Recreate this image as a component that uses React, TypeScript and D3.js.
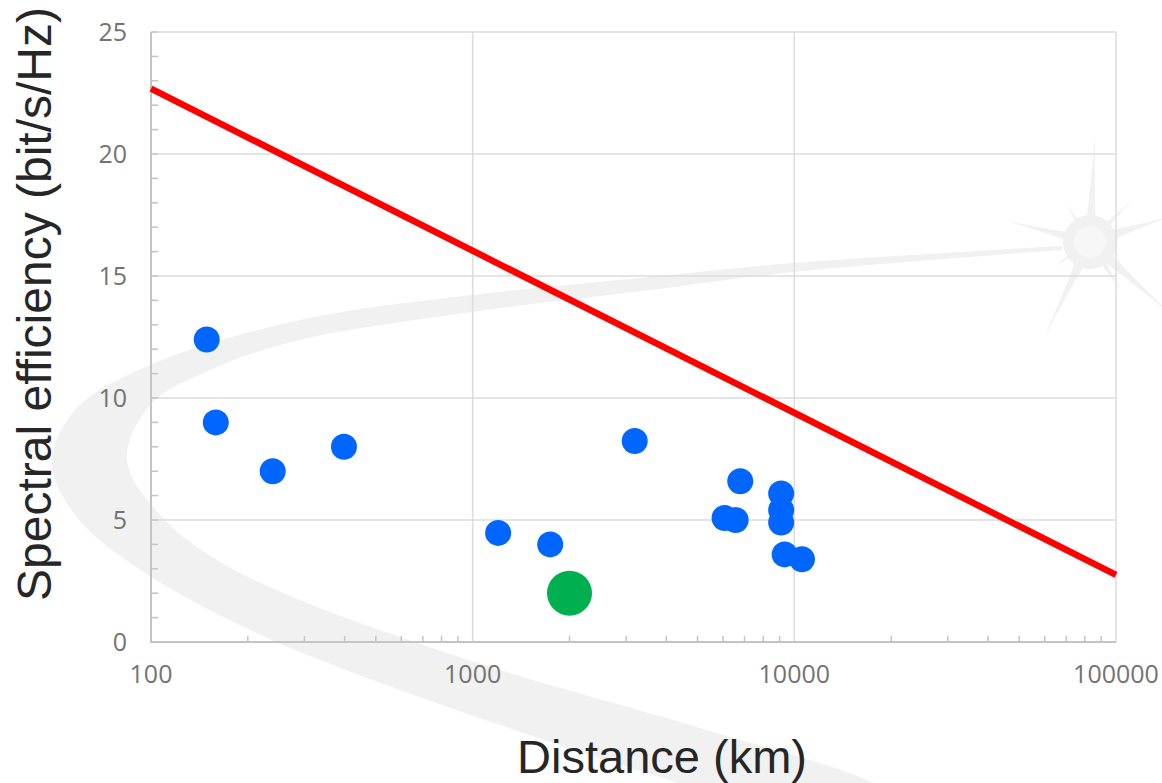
import React from "react";
import * as d3 from "d3";

// ---- data ----
const distanceKm = [149, 159, 239, 398, 1200, 1742, 3190, 6790, 6070, 6570, 9100, 9100, 9100, 9330, 10560];
const spectralEff = [12.4, 9.0, 7.0, 8.0, 4.47, 4.0, 8.24, 6.59, 5.08, 5.0, 6.09, 5.41, 4.9, 3.59, 3.39];
const highlightDistance = [2000];
const highlightEff = [2.0];
const limitDistance = [100, 100000];
const limitEff = [22.68, 2.75];
const xTicks = [100, 1000, 10000, 100000];
const yTicks = [0, 5, 10, 15, 20, 25];

const W = 1162;
const H = 783;
const L = 151, R = 1116, T = 32, B = 642;

export default function App() {
  const x = d3.scaleLog().domain([100, 100000]).range([L, R]);
  const y = d3.scaleLinear().domain([0, 25]).range([B, T]);

  const minorX: number[] = [];
  for (let dec = 100; dec < 100000; dec *= 10) {
    for (let k = 2; k <= 9; k++) minorX.push(dec * k);
  }
  const minorY = d3.range(0, 26, 1).filter((v) => v % 5 !== 0);

  const line = d3
    .line<number>()
    .x((_, i) => x(limitDistance[i]))
    .y((d) => y(d));

  // decorative background swoosh
  const outer: [number, number][] = [
    [1062, 246], [793, 263], [650, 277], [472, 295], [300, 320], [150, 365],
    [75, 410], [52, 463], [75, 515], [133, 565], [250, 630], [400, 690], [560, 745], [700, 790], [760, 810],
  ];
  const inner: [number, number][] = [
    [920, 810], [867, 780], [700, 728], [500, 670], [400, 637], [300, 600], [217, 560],
    [160, 515], [127, 460], [150, 405], [210, 370], [300, 340], [472, 312], [650, 290], [793, 272], [1062, 250],
  ];
  const curve = d3.line().curve(d3.curveCatmullRom.alpha(0.5));
  const swoosh = (curve(outer) || "") + " L" + (curve(inner) || "").slice(1) + " Z";

  const sc: [number, number] = [1090, 242];
  const spikes: [number, number, number][] = [
    [1095, 133, 7], [1043, 340, 8], [1003, 220, 7], [1175, 215, 9], [1175, 318, 9],
    [1067, 205, 5], [1132, 200, 5], [1055, 266, 5], [1122, 292, 6],
  ];
  const spikePath = (tx: number, ty: number, hw: number) => {
    const dx = tx - sc[0], dy = ty - sc[1];
    const len = Math.hypot(dx, dy);
    const nx = -dy / len, ny = dx / len;
    return `M${sc[0] + nx * hw},${sc[1] + ny * hw} Q${sc[0] + dx * 0.35 + nx * 2},${sc[1] + dy * 0.35 + ny * 2} ${tx},${ty} Q${sc[0] + dx * 0.35 - nx * 2},${sc[1] + dy * 0.35 - ny * 2} ${sc[0] - nx * hw},${sc[1] - ny * hw} Z`;
  };

  const tickFont = "'Open Sans', 'DejaVu Sans', sans-serif";
  const labelFont = "'Liberation Sans', Arial, sans-serif";

  return (
    <svg width={W} height={H} style={{ position: "absolute", left: 0, top: 0, background: "#fff" }}>
      {/* background decoration */}
      <path d={swoosh} fill="#f0f1f0" />
      <g fill="#f1f1f1">
        {spikes.map((s, i) => (
          <path key={i} d={spikePath(s[0], s[1], s[2])} />
        ))}
        <circle cx={sc[0]} cy={sc[1]} r={27} />
      </g>
      <circle cx={sc[0]} cy={sc[1]} r={16} fill="#f7f7f7" />

      {/* gridlines */}
      <g stroke="#dcdcdc" strokeWidth={1.5}>
        {yTicks.filter((v) => v > 0).map((v) => (
          <line key={"gy" + v} x1={L} x2={R} y1={y(v)} y2={y(v)} />
        ))}
        {xTicks.filter((v) => v > 100).map((v) => (
          <line key={"gx" + v} x1={x(v)} x2={x(v)} y1={T} y2={B} />
        ))}
      </g>

      {/* axes */}
      <g stroke="#c4c4c4" strokeWidth={2}>
        <line x1={L} x2={L} y1={T} y2={B + 1} />
        <line x1={L - 1} x2={R} y1={B} y2={B} />
        {minorY.map((v) => (
          <line key={"my" + v} x1={L} x2={L + 7} y1={y(v)} y2={y(v)} strokeWidth={1.5} />
        ))}
        {yTicks.map((v) => (
          <line key={"Ty" + v} x1={L} x2={L + 7} y1={y(v)} y2={y(v)} strokeWidth={1.5} />
        ))}
        {minorX.map((v) => (
          <line key={"mx" + v} x1={x(v)} x2={x(v)} y1={B} y2={B - 6} strokeWidth={1.5} />
        ))}
      </g>

      {/* tick labels */}
      <g fill="#737373" fontFamily={tickFont} fontSize={25}>
        {yTicks.map((v) => (
          <text key={"ly" + v} x={L - 24} y={y(v)} dy="0.35em" textAnchor="end">
            {v}
          </text>
        ))}
        {xTicks.map((v) => (
          <text key={"lx" + v} x={x(v)} y={683} textAnchor="middle">
            {v}
          </text>
        ))}
      </g>

      {/* data points */}
      <g fill="#0066ff">
        {distanceKm.map((d, i) => (
          <circle key={"p" + i} cx={x(d)} cy={y(spectralEff[i])} r={13} />
        ))}
      </g>
      <g fill="#00b050">
        {highlightDistance.map((d, i) => (
          <circle key={"h" + i} cx={x(d)} cy={y(highlightEff[i])} r={22.5} />
        ))}
      </g>

      {/* limit line */}
      <path d={line(limitEff) || ""} fill="none" stroke="#ff0000" strokeWidth={6.5} />

      {/* axis titles */}
      <text x={662} y={773} textAnchor="middle" fontFamily={labelFont} fontSize={47} fill="#262626">
        Distance (km)
      </text>
      <text
        transform={`translate(51, ${304}) rotate(-90)`}
        textAnchor="middle"
        fontFamily={labelFont}
        fontSize={48}
        fill="#262626"
      >
        Spectral efficiency (bit/s/Hz)
      </text>
    </svg>
  );
}
